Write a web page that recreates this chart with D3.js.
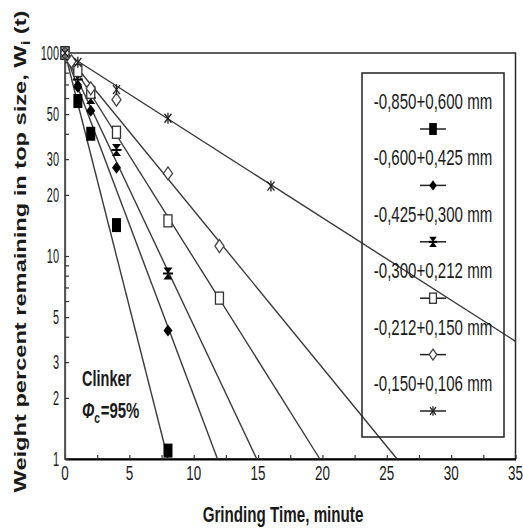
<!DOCTYPE html>
<html>
<head>
<meta charset="utf-8">
<script src="https://cdn.jsdelivr.net/npm/d3@7/dist/d3.min.js"></script>
<style>
  html, body { margin: 0; padding: 0; background: #fff; }
  svg { display: block; font-family: "Liberation Sans", Arial, sans-serif; }
</style>
</head>
<body>
<svg id="chart" width="523" height="528"></svg>
<script>
// Size fractions and their marker shapes
const seriesNames = [
  "-0,850+0,600 mm",
  "-0,600+0,425 mm",
  "-0,425+0,300 mm",
  "-0,300+0,212 mm",
  "-0,212+0,150 mm",
  "-0,150+0,106 mm"
];
const seriesMarkers = ["square", "diamond", "bowtie", "openSquare", "openDiamond", "asterisk"];

// Measured points: grinding time (min) and weight % remaining in top size
const timesS1 = [0, 1, 2, 4, 8];
const valuesS1 = [100, 58, 40, 14.2, 1.1];
const timesS2 = [0, 1, 2, 4, 8];
const valuesS2 = [100, 68, 52, 27.2, 4.3];
const timesS3 = [0, 1, 2, 4, 8];
const valuesS3 = [100, 74, 60, 33.3, 8.2];
const timesS4 = [0, 1, 2, 4, 8, 12];
const valuesS4 = [100, 82, 64, 40.7, 14.9, 6.2];
const timesS5 = [0, 0.5, 2, 4, 8, 12];
const valuesS5 = [100, 91, 67, 58.9, 25.5, 11.2];
const timesS6 = [0, 1, 4, 8, 16];
const valuesS6 = [100, 90, 66, 47.7, 22.1];

// First-order fit lines: start point and end point of each line
const fitStartT = [0, 0, 0, 0, 0, 0];
const fitStartV = [100, 100, 100, 100, 100, 100];
const fitEndT = [8, 11.85, 14.9, 19.8, 25.8, 35];
const fitEndV = [1, 1, 1, 1, 1, 3.8];

// Axis ticks
const xTickLabels = [0, 5, 10, 15, 20, 25, 30, 35];
const xMinorTicks = [0, 2.5, 5, 7.5, 10, 12.5, 15, 17.5, 20, 22.5, 25, 27.5, 30, 32.5, 35];
const yTickLabels = [1, 2, 3, 5, 10, 20, 30, 50, 100];

const xTitle = "Grinding Time, minute";
const yTitleMain = "Weight percent remaining in top size, W";
const yTitleSub = "i";
const yTitleEnd = " (t)";
const noteLine1 = "Clinker";
const notePhi = "Φ";
const noteSub = "c";
const noteValue = "=95%";

const timesAll = [timesS1, timesS2, timesS3, timesS4, timesS5, timesS6];
const valuesAll = [valuesS1, valuesS2, valuesS3, valuesS4, valuesS5, valuesS6];

const svg = d3.select("#chart");
const plot = { left: 65, right: 515.5, top: 53, bottom: 459 };

const x = d3.scaleLinear().domain([0, 35]).range([plot.left, plot.right]);
const y = d3.scaleLog().domain([1, 100]).range([plot.bottom, plot.top]);

const ink = "#1a1a1a";
const lineInk = "#3a3a3a";

// Condensed text helper: glyphs squeezed horizontally
function condensedText(parent, px, py, str, size, sx, anchor, weight) {
  return parent.append("text")
    .attr("transform", `translate(${px},${py}) scale(${sx},1)`)
    .attr("text-anchor", anchor || "middle")
    .attr("font-size", size)
    .attr("font-weight", weight || "normal")
    .attr("fill", ink)
    .text(str);
}

// Marker drawing
function drawMarker(g, type, k) {
  k = k || 1;
  const sw = 1.3;
  if (type === "square") {
    g.append("rect").attr("x", -4.5 * k).attr("y", -7 * k)
      .attr("width", 9 * k).attr("height", 14 * k).attr("fill", "#000");
  } else if (type === "diamond") {
    g.append("path")
      .attr("d", `M0,${-6 * k}L${4.5 * k},0L0,${6 * k}L${-4.5 * k},0Z`)
      .attr("fill", "#000");
  } else if (type === "bowtie") {
    g.append("path")
      .attr("d", `M${-4.5 * k},${-6 * k}L${4.5 * k},${-6 * k}L0,0Z M${-4.5 * k},${6 * k}L${4.5 * k},${6 * k}L0,0Z`)
      .attr("fill", "#000");
    g.append("line").attr("x1", -5 * k).attr("x2", 5 * k).attr("y1", 0).attr("y2", 0)
      .attr("stroke", "#000").attr("stroke-width", 2);
  } else if (type === "openSquare") {
    g.append("rect").attr("x", -4 * k).attr("y", -6 * k)
      .attr("width", 8 * k).attr("height", 12 * k)
      .attr("fill", "#fff").attr("stroke", "#333").attr("stroke-width", sw);
  } else if (type === "openDiamond") {
    g.append("path")
      .attr("d", `M0,${-6.5 * k}L${4.5 * k},0L0,${6.5 * k}L${-4.5 * k},0Z`)
      .attr("fill", "#fff").attr("stroke", "#444").attr("stroke-width", sw);
  } else if (type === "asterisk") {
    const s = "#222";
    g.append("line").attr("x1", 0).attr("x2", 0).attr("y1", -5.5 * k).attr("y2", 5.5 * k)
      .attr("stroke", s).attr("stroke-width", sw);
    g.append("line").attr("x1", -3.5 * k).attr("x2", 3.5 * k).attr("y1", -4.5 * k).attr("y2", 4.5 * k)
      .attr("stroke", s).attr("stroke-width", sw);
    g.append("line").attr("x1", 3.5 * k).attr("x2", -3.5 * k).attr("y1", -4.5 * k).attr("y2", 4.5 * k)
      .attr("stroke", s).attr("stroke-width", sw);
  }
}

// Plot frame
svg.append("rect")
  .attr("x", plot.left).attr("y", plot.top)
  .attr("width", plot.right - plot.left).attr("height", plot.bottom - plot.top)
  .attr("fill", "none").attr("stroke", "#2a2a2a").attr("stroke-width", 1.5);

// Axes: inward ticks only, labels drawn separately
const xAxis = svg.append("g").attr("transform", `translate(0,${plot.bottom})`)
  .call(d3.axisBottom(x).tickValues(xMinorTicks).tickSizeInner(-4).tickSizeOuter(0).tickFormat(""));
xAxis.select(".domain").attr("stroke", "#000").attr("stroke-width", 2.2);
xAxis.selectAll(".tick line").attr("stroke", "#333").attr("stroke-width", 1.2);

const yAxis = svg.append("g").attr("transform", `translate(${plot.left},0)`)
  .call(d3.axisLeft(y).tickValues(y.ticks()).tickSizeInner(-4).tickSizeOuter(0).tickFormat(""));
yAxis.select(".domain").attr("stroke", "#555").attr("stroke-width", 1.3);
yAxis.selectAll(".tick line").attr("stroke", "#333").attr("stroke-width", 1.2);

// Tick labels
const xLabelG = svg.append("g");
xTickLabels.forEach(v => condensedText(xLabelG, x(v), 480, String(v), 21, 0.64, "middle"));
const yLabelG = svg.append("g");
yTickLabels.forEach(v => condensedText(yLabelG, 59, y(v) + 7, String(v), 19.5, 0.56, "end"));

// Fit lines
const lineG = svg.append("g");
seriesNames.forEach((name, i) => {
  lineG.append("line")
    .attr("x1", x(fitStartT[i])).attr("y1", y(fitStartV[i]))
    .attr("x2", x(fitEndT[i])).attr("y2", y(fitEndV[i]))
    .attr("stroke", lineInk).attr("stroke-width", 1.4);
});

// Data markers
const markG = svg.append("g");
seriesNames.forEach((name, i) => {
  timesAll[i].forEach((t, j) => {
    const g = markG.append("g").attr("transform", `translate(${x(t)},${y(valuesAll[i][j])})`);
    drawMarker(g, seriesMarkers[i], 1);
  });
});

// Legend (transparent box)
const legend = svg.append("g");
const legendX = 433;
seriesNames.forEach((name, i) => {
  const ty = 101 + 56.4 * i;
  const my = 129 + 56.4 * i;
  condensedText(legend, legendX, ty + 8, name, 22.5, 0.67, "middle");
  legend.append("line").attr("x1", legendX - 13).attr("x2", legendX + 13)
    .attr("y1", my).attr("y2", my).attr("stroke", "#222").attr("stroke-width", 1.5);
  const g = legend.append("g").attr("transform", `translate(${legendX},${my})`);
  drawMarker(g, seriesMarkers[i], 0.85);
});
legend.append("rect")
  .attr("x", 362).attr("y", 73).attr("width", 142).attr("height", 364)
  .attr("fill", "none").attr("stroke", "#222").attr("stroke-width", 1.5);

// Material note
condensedText(svg, 82, 386, noteLine1, 22, 0.66, "start", "bold");
const note2 = svg.append("text")
  .attr("transform", "translate(82,418) scale(0.68,1)")
  .attr("font-size", 22).attr("font-weight", "bold").attr("fill", ink);
note2.append("tspan").attr("font-style", "italic").text(notePhi);
note2.append("tspan").attr("font-size", 15).attr("dy", 5).text(noteSub);
note2.append("tspan").attr("dy", -5).attr("dx", 1).text(noteValue);

// Axis titles
condensedText(svg, 283, 522, xTitle, 22, 0.69, "middle", "bold");
const yt = svg.append("text")
  .attr("transform", "translate(26,251.5) rotate(-90) scale(1.39,1)")
  .attr("text-anchor", "middle")
  .attr("font-size", 17).attr("font-weight", "bold").attr("fill", ink);
yt.append("tspan").text(yTitleMain);
yt.append("tspan").attr("font-size", 12).attr("dy", 4).text(yTitleSub);
yt.append("tspan").attr("dy", -4).text(yTitleEnd);
</script>
</body>
</html>
